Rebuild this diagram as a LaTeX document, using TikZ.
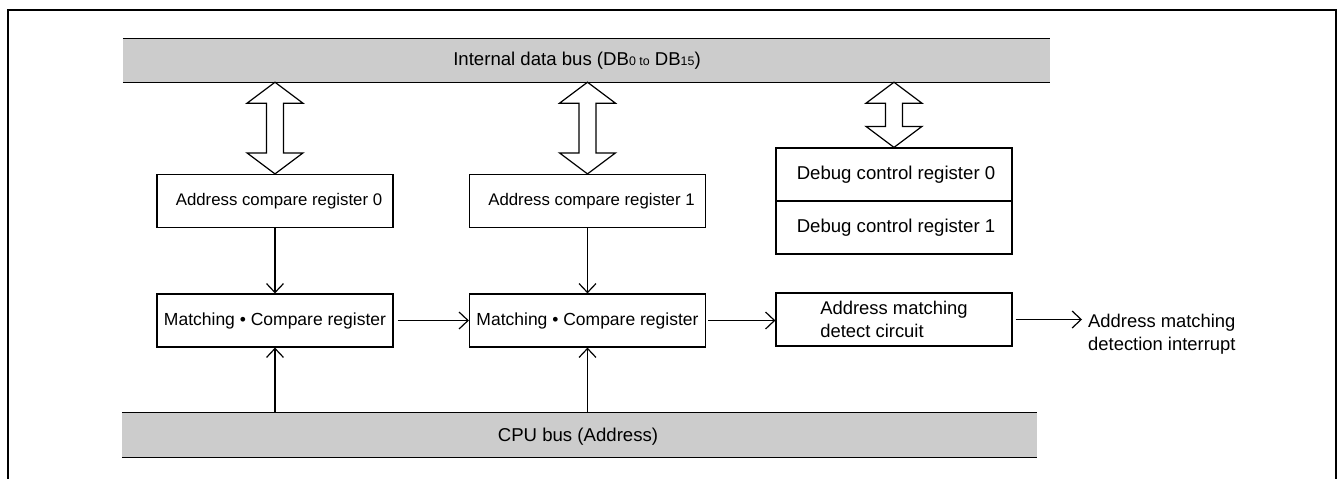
\documentclass[tikz,border=0pt]{standalone}
\usepackage{fontspec}
\setmainfont{Liberation Sans}
\usetikzlibrary{arrows.meta,calc}
\definecolor{busgray}{RGB}{204,204,204}
\newcommand\smtxt[1]{{\fontsize{12.4}{14}\selectfont #1}}
\newcommand\dblarrow[2]{%
  \draw[dbl] (#1) -- ($(#1)+(28,21)$) -- ($(#1)+(8.5,21)$) -- ($(#2)+(8.5,-21)$)
    -- ($(#2)+(28,-21)$) -- (#2) -- ($(#2)+(-28,-21)$) -- ($(#2)+(-8.5,-21)$)
    -- ($(#1)+(-8.5,21)$) -- ($(#1)+(-28,21)$) -- cycle;}
\begin{document}
\begin{tikzpicture}[x=1pt,y=-1pt,
  box/.style={draw,line width=1.2pt,minimum width=236pt,minimum height=53pt,inner sep=0pt,
    font=\fontsize{16.8}{21}\selectfont},
  bus/.style={fill=busgray,inner sep=0pt},
  busline/.style={line width=1.3pt},
  conn/.style={line width=1.2pt,-{Straight Barb[length=9pt,width=17pt,line width=1.2pt]}},
  dbl/.style={draw,line width=1.2pt,fill=white,line join=miter},
  buslabel/.style={font=\fontsize{18.6}{22}\selectfont,inner sep=0pt},
  plain/.style={font=\fontsize{18.4}{23}\selectfont,inner sep=0pt,align=left}
]
\useasboundingbox (0,0) rectangle (1339,479);
% frame
\draw[line width=1.5pt] (8,479) -- (8,10) -- (1336,10) -- (1336,479);

% buses
\node[bus,minimum width=927pt,minimum height=43pt] (ibus) at (586.5,60.5) {};
\draw[busline] (ibus.north west) -- (ibus.north east) (ibus.south west) -- (ibus.south east);
\node[buslabel] (ibustxt) at (577,61) {Internal data bus (DB\smtxt{0 to} DB\smtxt{15})};

\node[bus,minimum width=915pt,minimum height=44pt] (cbus) at (579.5,435) {};
\draw[busline] (cbus.north west) -- (cbus.north east) (cbus.south west) -- (cbus.south east);
\node[buslabel] (cbustxt) at (578,437) {CPU bus (Address)};

% boxes
\node[box] (acr0) at (275,201) {\hspace*{8pt}Address compare register 0};
\node[box] (acr1) at (587.5,201) {\hspace*{8pt}Address compare register 1};
\node[box,font=\fontsize{18.6}{22}\selectfont] (dbg0) at (894,174.5) {\hspace*{4pt}Debug control register 0};
\node[box,font=\fontsize{18.6}{22}\selectfont] (dbg1) at (894,227.5) {\hspace*{4pt}Debug control register 1};
\node[box,font=\fontsize{17.5}{21}\selectfont] (mcr0) at (275,320.5) {Matching \textbullet{} Compare register};
\node[box,font=\fontsize{17.5}{21}\selectfont] (mcr1) at (587.5,320.5) {Matching \textbullet{} Compare register};
\node[box,align=left,font=\fontsize{18.4}{23}\selectfont] (amdc) at (894,319.5) {Address matching\\detect circuit};
\node[plain,anchor=west] (intr) at (1088,334) {Address matching\\detection interrupt};

% double arrows
\coordinate (t1) at (ibus.south -| acr0.north);
\coordinate (t2) at (ibus.south -| acr1.north);
\coordinate (t3) at (ibus.south -| dbg0.north);
\dblarrow{t1}{acr0.north}
\dblarrow{t2}{acr1.north}
\dblarrow{t3}{dbg0.north}

% connectors
\draw[conn] (acr0.south) -- (mcr0.north);
\draw[conn] (acr1.south) -- (mcr1.north);
\draw[conn] (cbus.north -| mcr0.south) -- (mcr0.south);
\draw[conn] (cbus.north -| mcr1.south) -- (mcr1.south);
\draw[conn,shorten <=4pt] (mcr0.east) -- (mcr1.west);
\draw[conn,shorten <=2pt] (mcr1.east) -- (mcr1.east -| amdc.west);
\coordinate (intrin) at (amdc.east -| intr.west);
\draw[conn,shorten <=3pt,shorten >=6pt] (amdc.east) -- (intrin);
\end{tikzpicture}
\end{document}
